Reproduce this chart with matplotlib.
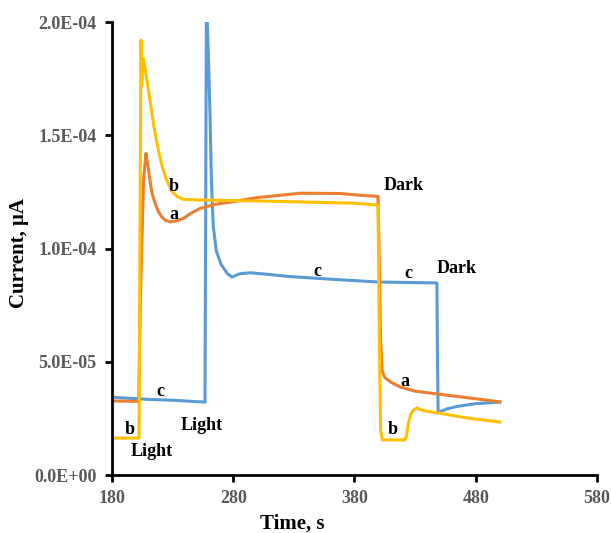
import matplotlib
matplotlib.use("Agg")
import matplotlib.pyplot as plt

plt.rcParams['font.family'] = ['Liberation Serif', 'DejaVu Serif']
plt.rcParams['font.weight'] = 'bold'

# curve a (orange)
a_time = [180, 202, 203.5, 206, 208, 209.5, 211.3, 213, 215.5, 218, 221, 224, 227.8, 233,
          238.8, 245, 252.6, 265, 280, 300, 335, 368, 385, 399.4, 400.3, 401.5, 402.8, 405,
          410, 417.5, 430, 442, 460, 475, 500]
a_curr = [32.7, 32.5, 80, 130, 142, 137, 130.2, 124.5, 120, 116.5, 114, 112.5, 111.8, 112.2,
          113.3, 115.5, 117.7, 119.5, 120.7, 122.5, 124.4, 124.3, 123.5, 123, 100, 60, 46, 43,
          41, 38.9, 37, 36.2, 35, 34, 32.3]

# curve b (yellow)
b_time = [180, 202.3, 203.2, 203.9, 204.5, 205.6, 207.5, 209.5, 211.3, 214.5, 218.2, 221.5,
          225.1, 229.2, 233.5, 238.8, 252.6, 300, 340, 380, 399.4, 400.5, 401.5, 403, 421.6,
          423, 424.5, 426.5, 429, 431.5, 434, 437, 449, 475, 500]
b_curr = [16.3, 16.3, 120, 192, 172, 184, 179, 172, 165.6, 154, 143.5, 136, 130.2, 125.5,
          123, 121.7, 121.4, 121, 120.5, 120, 119.2, 60, 20, 15.5, 15.5, 17.5, 23, 27,
          28.8, 29.6, 29, 28.4, 27.4, 25, 23.4]

# curve c (blue)
c_time = [180, 190, 210, 230, 256.7, 257.3, 257.8, 258.6, 259.8, 260.8, 262, 263.5, 266,
          270, 275, 279, 285, 294, 310, 327, 368, 400, 448, 448.5, 449, 452, 457, 465, 480, 500]
c_curr = [34.4, 34, 33.4, 33, 32.2, 120, 200, 200, 180, 160, 130, 110, 99,
          93, 89, 87.4, 88.8, 89.3, 88.5, 87.6, 86.2, 85.2, 84.8, 50, 27.4, 28.3, 29.3, 30.3,
          31.5, 32.2]

# annotations: text, x, y (uA)
labels = [("b", 231, 127.2), ("a", 231, 114.8), ("c", 219.6, 36.8), ("b", 194.3, 19.9),
          ("Light", 212.7, 10.3), ("Light", 254, 22), ("Dark", 420.3, 128),
          ("Dark", 464.3, 91.3), ("c", 349.3, 89.8), ("c", 424.4, 89),
          ("a", 421.6, 41.2), ("b", 411.5, 19.9)]

fig = plt.figure(figsize=(6.11, 5.33), dpi=100)
ax = fig.add_axes([0.1833, 0.1088, 0.7937, 0.8499])

s = 1e-6
ax.plot(c_time, [v * s for v in c_curr], color='#5B9BD5', lw=2.2)
ax.plot(a_time, [v * s for v in a_curr], color='#ED7D31', lw=2.2)
ax.plot(b_time, [v * s for v in b_curr], color='#FFC000', lw=2.2)

for txt, x, y in labels:
    ax.text(x, y * s, txt, ha='center', va='center', fontsize=13, fontweight='bold', color='black')

ax.set_xlim(180, 580)
ax.set_ylim(0, 2.0e-4)
ax.set_xticks([180, 280, 380, 480, 580])
ax.set_yticks([0, 5e-5, 1e-4, 1.5e-4, 2e-4])
ax.set_yticklabels(['0.0E+00', '5.0E-05', '1.0E-04', '1.5E-04', '2.0E-04'])

for side in ['top', 'right']:
    ax.spines[side].set_visible(False)
for side in ['left', 'bottom']:
    ax.spines[side].set_linewidth(2)
    ax.spines[side].set_color('black')

ax.tick_params(axis='both', direction='out', length=5, width=2, color='black',
               labelsize=13, labelcolor='#595959', pad=6)
for lab in ax.get_xticklabels() + ax.get_yticklabels():
    lab.set_fontweight('bold')

ax.set_xlabel('Time, s', fontsize=15, fontweight='bold', labelpad=2)
ax.xaxis.set_label_coords(0.372, -0.085)
ax.set_ylabel('Current, μA', fontsize=15, fontweight='bold')
ax.yaxis.set_label_coords(-0.172, 0.49)

fig.savefig('out.png', dpi=100)
